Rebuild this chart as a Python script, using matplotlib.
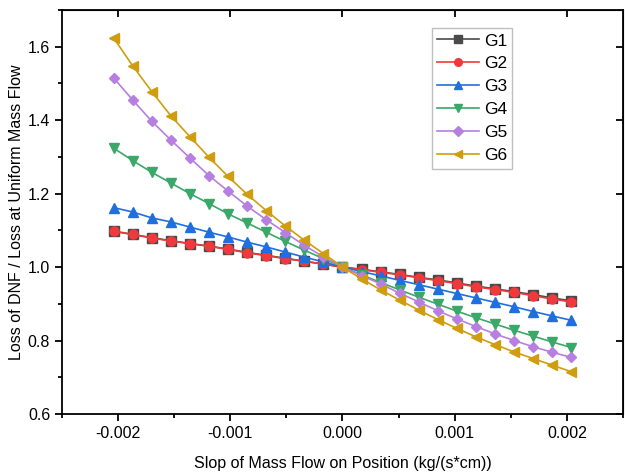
import numpy as np
import matplotlib.pyplot as plt
from matplotlib.ticker import MultipleLocator

plt.rcParams['font.family'] = ['Liberation Sans', 'DejaVu Sans']

# slope of mass flow on position (kg/(s*cm)), 25 points
slope = np.linspace(-0.00204, 0.00204, 25)

g1 = [1.098, 1.089, 1.080, 1.072, 1.064, 1.057, 1.049, 1.040, 1.032, 1.024, 1.016, 1.008, 1.000,
      0.994, 0.987, 0.980, 0.972, 0.965, 0.957, 0.948, 0.941, 0.933, 0.925, 0.916, 0.908]
g2 = [1.097, 1.089, 1.079, 1.071, 1.064, 1.057, 1.048, 1.039, 1.031, 1.023, 1.016, 1.008, 1.000,
      0.993, 0.986, 0.979, 0.971, 0.963, 0.955, 0.946, 0.939, 0.931, 0.922, 0.913, 0.905]
g3 = [1.162, 1.150, 1.134, 1.123, 1.109, 1.095, 1.082, 1.068, 1.055, 1.041, 1.027, 1.014, 1.000,
      0.988, 0.976, 0.964, 0.952, 0.940, 0.928, 0.916, 0.904, 0.892, 0.879, 0.867, 0.855]
g4 = [1.324, 1.290, 1.258, 1.229, 1.200, 1.173, 1.145, 1.120, 1.095, 1.070, 1.046, 1.023, 1.000,
      0.979, 0.958, 0.938, 0.918, 0.899, 0.880, 0.862, 0.845, 0.828, 0.812, 0.796, 0.781]
g5 = [1.515, 1.455, 1.397, 1.346, 1.297, 1.249, 1.207, 1.166, 1.129, 1.094, 1.059, 1.028, 1.000,
      0.977, 0.954, 0.929, 0.905, 0.881, 0.859, 0.838, 0.818, 0.800, 0.783, 0.768, 0.754]
g6 = [1.624, 1.548, 1.478, 1.412, 1.355, 1.299, 1.247, 1.198, 1.154, 1.112, 1.073, 1.037, 1.000,
      0.968, 0.938, 0.910, 0.883, 0.857, 0.833, 0.810, 0.789, 0.769, 0.751, 0.733, 0.715]

series = [
    ('G1', g1, '#4a4a4a', 's'),
    ('G2', g2, '#f0393c', 'o'),
    ('G3', g3, '#1f6fe0', '^'),
    ('G4', g4, '#3aa868', 'v'),
    ('G5', g5, '#b77fe0', 'D'),
    ('G6', g6, '#d09d10', '<'),
]

fig = plt.figure(figsize=(6.25, 4.73), dpi=100)
ax = fig.add_axes([0.0992, 0.1247, 0.8976, 0.8542])

for name, vals, col, mk in series:
    ms = 5.5 if mk == 'D' else 6.5
    ax.plot(slope, vals, color=col, marker=mk, markersize=ms, linewidth=1.2, label=name)

ax.set_xlim(-0.0025, 0.0025)
ax.set_ylim(0.6, 1.7)
ax.xaxis.set_major_locator(MultipleLocator(0.001))
ax.xaxis.set_minor_locator(MultipleLocator(0.0005))
ax.yaxis.set_major_locator(MultipleLocator(0.2))
ax.yaxis.set_minor_locator(MultipleLocator(0.1))
ax.set_xticklabels([f'{v:.3f}' for v in ax.get_xticks()])
ax.set_xlim(-0.0025, 0.0025)

for s in ax.spines.values():
    s.set_linewidth(1.3)
ax.tick_params(which='major', direction='out', length=5, width=1.3, labelsize=11.5)
ax.tick_params(which='minor', direction='out', length=3, width=1.3)

# mirrored inward ticks on top and right
ax_t = ax.secondary_xaxis('top')
ax_t.xaxis.set_major_locator(MultipleLocator(0.001))
ax_t.tick_params(direction='in', length=5, width=1.3, labeltop=False)
ax_r = ax.secondary_yaxis('right')
ax_r.yaxis.set_major_locator(MultipleLocator(0.2))
ax_r.tick_params(direction='in', length=5, width=1.3, labelright=False)

ax.set_xlabel('Slop of Mass Flow on Position (kg/(s*cm))', fontsize=11.5, labelpad=11)
ax.set_ylabel('Loss of DNF / Loss at Uniform Mass Flow', fontsize=11.5, labelpad=3)

leg = ax.legend(loc='upper left', bbox_to_anchor=(0.659, 0.955), fontsize=12.5,
                frameon=True, fancybox=False, edgecolor='#b0b0b0', handlelength=2.4,
                borderpad=0.3, labelspacing=0.45, handletextpad=0.3, borderaxespad=0,
                markerscale=0.85)
leg.get_frame().set_linewidth(1.0)

fig.savefig('out.png', dpi=100)
